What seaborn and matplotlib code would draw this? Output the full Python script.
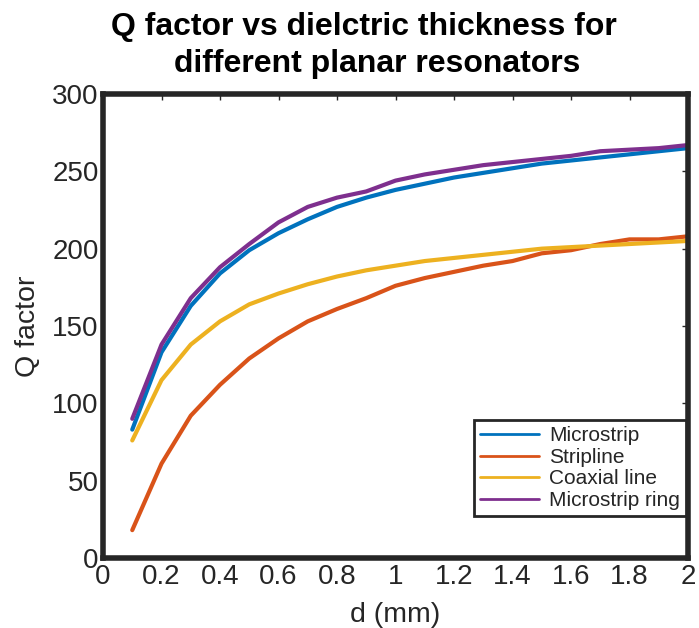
import numpy as np
import pandas as pd
import seaborn as sns
import matplotlib
matplotlib.use("Agg")
import matplotlib.pyplot as plt
from matplotlib.lines import Line2D

d_mm = [0.1, 0.2, 0.3, 0.4, 0.5, 0.6, 0.7, 0.8, 0.9, 1.0,
        1.1, 1.2, 1.3, 1.4, 1.5, 1.6, 1.7, 1.8, 1.9, 2.0]
microstrip = [83, 133, 163, 184, 199, 210, 219, 227, 233, 238,
              242, 246, 249, 252, 255, 257, 259, 261, 263, 265]
stripline = [18, 61, 92, 112, 129, 142, 153, 161, 168, 176,
             181, 185, 189, 192, 197, 199, 203, 206, 206, 208]
coaxial = [76, 115, 138, 153, 164, 171, 177, 182, 186, 189,
           192, 194, 196, 198, 200, 201, 202, 203, 204, 205]
ring = [90, 138, 168, 188, 203, 217, 227, 233, 237, 244,
        248, 251, 254, 256, 258, 260, 263, 264, 265, 267]
names = ["Microstrip", "Stripline", "Coaxial line", "Microstrip ring"]
colors = ["#0072BD", "#D95319", "#EDB120", "#7E2F8E"]

frames = []
for n, vals in zip(names, [microstrip, stripline, coaxial, ring]):
    frames.append(pd.DataFrame({"d": d_mm, "Q": vals, "type": n}))
df = pd.concat(frames, ignore_index=True)

sns.set_style("white")
plt.rcParams["font.family"] = ["Liberation Sans", "DejaVu Sans"]

fig = plt.figure(figsize=(6.99, 6.28), dpi=100)
ax = fig.add_axes([103/699, 1-558/628, (688-103)/699, (558-94)/628])
sns.lineplot(data=df, x="d", y="Q", hue="type", hue_order=names,
             palette=colors, linewidth=3, ax=ax, legend=False)

ax.set_xlim(0, 2)
ax.set_ylim(0, 300)
ax.set_xticks(np.arange(0, 2.01, 0.2))
ax.set_xticklabels(["0", "0.2", "0.4", "0.6", "0.8", "1", "1.2", "1.4", "1.6", "1.8", "2"])
ax.set_yticks(np.arange(0, 301, 50))
ax.tick_params(direction="in", length=4, width=1, colors="#262626",
               labelsize=20, top=True, right=True)
ax.tick_params(axis="x", pad=4)
ax.tick_params(axis="y", pad=3)
for s in ax.spines.values():
    s.set_linewidth(4)
    s.set_color("#262626")
ax.set_xlabel("d (mm)", fontsize=20.5, color="#262626", labelpad=9)
ax.set_ylabel("Q factor", fontsize=20.5, color="#262626", labelpad=8)
ax.set_title("Q factor vs dielctric thickness for   \ndifferent planar resonators",
             fontsize=23, fontweight="bold", color="black", pad=16,
             linespacing=1.3, x=0.468)

handles = [Line2D([0], [0], color=c, lw=2) for c in colors]
leg = ax.legend(handles, names, loc="lower right", bbox_to_anchor=(0.997, 0.09),
                fontsize=15, frameon=True, fancybox=False, framealpha=1,
                edgecolor="#262626", handlelength=2.8, handletextpad=0.5,
                labelspacing=0.12, borderpad=0.3, borderaxespad=0.0)
leg.get_frame().set_linewidth(2)

fig.savefig("out.png", dpi=100)
